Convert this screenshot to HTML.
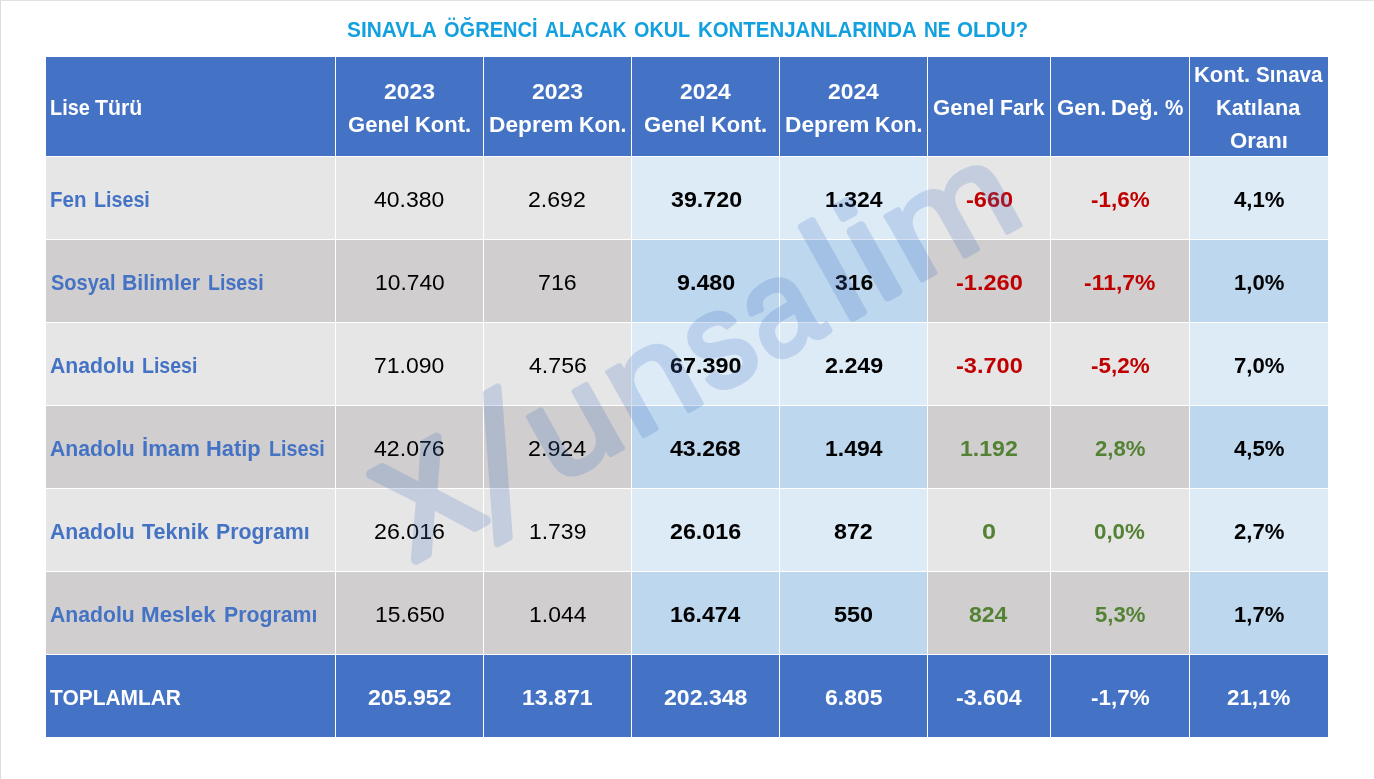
<!DOCTYPE html>
<html lang="tr"><head><meta charset="utf-8"><title>Sınavla öğrenci alacak okul kontenjanları</title>
<style>
html,body{margin:0;padding:0;background:#fff}
body{width:1374px;height:779px;position:relative;overflow:hidden;font-family:"Liberation Sans", sans-serif;font-size:22.8px;line-height:33.0px;color:#000}
.edge-l{position:absolute;left:0;top:0;width:1px;height:779px;background:#dcdcdc}
.edge-t{position:absolute;left:0;top:0;width:1374px;height:1px;background:#e2e2e2}
#grid{position:absolute;left:46px;top:57px;width:1282px;height:680px;background:#fff;display:grid;gap:1px;grid-template-columns:289px 147px 147px 147px 147px 122px 138px 138px;grid-template-rows:99px repeat(7,82px)}
.r{display:contents}
.c{position:relative;overflow:visible}
.ln{position:absolute;left:0;right:0;height:33.0px;display:flex;justify-content:center;white-space:pre}
.ln.l{justify-content:flex-start}
.t{display:inline-block;flex:none;white-space:pre}
.w{display:inline-block;white-space:pre}
.w.a{position:absolute;top:0}
.g{display:inline-block;transform-origin:0 50%;white-space:pre}
.b{font-weight:700}
.hd{background:#4472c4;color:#fff;font-weight:700}
.g1{background:#e7e6e6}.g2{background:#d0cece}
.b1{background:#ddebf7}.b2{background:#bdd7ee}
.nm{color:#4472c4;font-weight:700}
.neg{color:#c00000}.pos{color:#548235}
#title{position:absolute;left:46px;width:1282px;color:#12a0df;font-weight:700}
#wm{position:absolute;left:0;top:0;width:1374px;height:779px;pointer-events:none}
</style></head><body>
<div class="edge-l"></div><div class="edge-t"></div>
<div id="title" class="ln l" style="top:13px"><span class="t"><span class="w a" style="left:300.87px"><span class="g" style="transform:scaleX(0.9140)">SINAVLA</span></span> <span class="w a" style="left:397.87px"><span class="g" style="transform:scaleX(0.8797)">ÖĞRENCİ</span></span> <span class="w a" style="left:498.70px"><span class="g" style="transform:scaleX(0.8474)">ALACAK</span></span> <span class="w a" style="left:587.88px"><span class="g" style="transform:scaleX(0.8678)">OKUL</span></span> <span class="w a" style="left:652.02px"><span class="g" style="transform:scaleX(0.8953)">KONTENJANLARINDA</span></span> <span class="w a" style="left:877.80px"><span class="g" style="transform:scaleX(0.8399)">NE</span></span> <span class="w a" style="left:911.45px"><span class="g" style="transform:scaleX(0.9074)">OLDU?</span></span></span></div>
<div id="grid" role="table">
<div class="r" role="row">
<div class="c hd" role="columnheader"><div class="ln l" style="top:34px"><span class="t"><span class="w a" style="left:3.94px"><span class="g" style="transform:scaleX(0.8709)">Lise</span></span> <span class="w a" style="left:49.38px"><span class="g" style="transform:scaleX(0.9343)">Türü</span></span></span></div></div>
<div class="c hd" role="columnheader"><div class="ln l" style="top:18px"><span class="t"><span class="w a" style="left:47.97px"><span class="g" style="transform:scaleX(1.0080)">2023</span></span></span></div><div class="ln l" style="top:51px"><span class="t"><span class="w a" style="left:11.82px"><span class="g" style="transform:scaleX(0.9691)">Genel</span></span> <span class="w a" style="left:78.91px"><span class="g" style="transform:scaleX(0.9623)">Kont.</span></span></span></div></div>
<div class="c hd" role="columnheader"><div class="ln l" style="top:18px"><span class="t"><span class="w a" style="left:47.97px"><span class="g" style="transform:scaleX(1.0080)">2023</span></span></span></div><div class="ln l" style="top:51px"><span class="t"><span class="w a" style="left:4.71px"><span class="g" style="transform:scaleX(0.9957)">Deprem</span></span> <span class="w a" style="left:94.64px"><span class="g" style="transform:scaleX(0.9370)">Kon.</span></span></span></div></div>
<div class="c hd" role="columnheader"><div class="ln l" style="top:18px"><span class="t"><span class="w a" style="left:47.97px"><span class="g" style="transform:scaleX(1.0015)">2024</span></span></span></div><div class="ln l" style="top:51px"><span class="t"><span class="w a" style="left:11.82px"><span class="g" style="transform:scaleX(0.9691)">Genel</span></span> <span class="w a" style="left:78.91px"><span class="g" style="transform:scaleX(0.9623)">Kont.</span></span></span></div></div>
<div class="c hd" role="columnheader"><div class="ln l" style="top:18px"><span class="t"><span class="w a" style="left:47.97px"><span class="g" style="transform:scaleX(1.0015)">2024</span></span></span></div><div class="ln l" style="top:51px"><span class="t"><span class="w a" style="left:4.71px"><span class="g" style="transform:scaleX(0.9957)">Deprem</span></span> <span class="w a" style="left:94.64px"><span class="g" style="transform:scaleX(0.9370)">Kon.</span></span></span></div></div>
<div class="c hd" role="columnheader"><div class="ln l" style="top:34px"><span class="t"><span class="w a" style="left:4.99px"><span class="g" style="transform:scaleX(0.9691)">Genel</span></span> <span class="w a" style="left:72.13px"><span class="g" style="transform:scaleX(0.9255)">Fark</span></span></span></div></div>
<div class="c hd" role="columnheader"><div class="ln l" style="top:34px"><span class="t"><span class="w a" style="left:5.57px"><span class="g" style="transform:scaleX(0.9766)">Gen.</span></span> <span class="w a" style="left:60.49px"><span class="g" style="transform:scaleX(0.9636)">Değ.</span></span> <span class="w a" style="left:113.80px"><span class="g" style="transform:scaleX(0.9061)">%</span></span></span></div></div>
<div class="c hd" role="columnheader"><div class="ln l" style="top:1px"><span class="t"><span class="w a" style="left:4.14px"><span class="g" style="transform:scaleX(0.9623)">Kont.</span></span> <span class="w a" style="left:65.90px"><span class="g" style="transform:scaleX(0.9061)">Sınava</span></span></span></div><div class="ln l" style="top:34px"><span class="t"><span class="w a" style="left:26.24px"><span class="g" style="transform:scaleX(0.9492)">Katılana</span></span></span></div><div class="ln l" style="top:67px"><span class="t"><span class="w a" style="left:39.84px"><span class="g" style="transform:scaleX(0.9715)">Oranı</span></span></span></div></div>
</div>
<div class="r" role="row">
<div class="c g1 nm" role="cell"><div class="ln l" style="top:26px"><span class="t"><span class="w a" style="left:4.32px"><span class="g" style="transform:scaleX(0.8998)">Fen</span></span> <span class="w a" style="left:47.67px"><span class="g" style="transform:scaleX(0.8632)">Lisesi</span></span></span></div></div>
<div class="c g1" role="cell"><div class="ln l" style="top:26px"><span class="t"><span class="w a" style="left:38.35px"><span class="g" style="transform:scaleX(1.0086)">40.380</span></span></span></div></div>
<div class="c g1" role="cell"><div class="ln l" style="top:26px"><span class="t"><span class="w a" style="left:44.42px"><span class="g" style="transform:scaleX(1.0136)">2.692</span></span></span></div></div>
<div class="c b1 b" role="cell"><div class="ln l" style="top:26px"><span class="t"><span class="w a" style="left:38.56px"><span class="g" style="transform:scaleX(1.0192)">39.720</span></span></span></div></div>
<div class="c b1 b" role="cell"><div class="ln l" style="top:26px"><span class="t"><span class="w a" style="left:44.67px"><span class="g" style="transform:scaleX(1.0073)">1.324</span></span></span></div></div>
<div class="c g1 b neg" role="cell"><div class="ln l" style="top:26px"><span class="t"><span class="w a" style="left:37.59px"><span class="g" style="transform:scaleX(1.0354)">-660</span></span></span></div></div>
<div class="c g1 b neg" role="cell"><div class="ln l" style="top:26px"><span class="t"><span class="w a" style="left:39.57px"><span class="g" style="transform:scaleX(0.9840)">-1,6%</span></span></span></div></div>
<div class="c b1 b" role="cell"><div class="ln l" style="top:26px"><span class="t"><span class="w a" style="left:43.74px"><span class="g" style="transform:scaleX(0.9731)">4,1%</span></span></span></div></div>
</div>
<div class="r" role="row">
<div class="c g2 nm" role="cell"><div class="ln l" style="top:26px"><span class="t"><span class="w a" style="left:4.69px"><span class="g" style="transform:scaleX(0.8774)">Sosyal</span></span> <span class="w a" style="left:75.87px"><span class="g" style="transform:scaleX(0.9331)">Bilimler</span></span> <span class="w a" style="left:162.07px"><span class="g" style="transform:scaleX(0.8599)">Lisesi</span></span></span></div></div>
<div class="c g2" role="cell"><div class="ln l" style="top:26px"><span class="t"><span class="w a" style="left:38.86px"><span class="g" style="transform:scaleX(1.0012)">10.740</span></span></span></div></div>
<div class="c g2" role="cell"><div class="ln l" style="top:26px"><span class="t"><span class="w a" style="left:54.39px"><span class="g" style="transform:scaleX(1.0165)">716</span></span></span></div></div>
<div class="c b2 b" role="cell"><div class="ln l" style="top:26px"><span class="t"><span class="w a" style="left:44.99px"><span class="g" style="transform:scaleX(1.0209)">9.480</span></span></span></div></div>
<div class="c b2 b" role="cell"><div class="ln l" style="top:26px"><span class="t"><span class="w a" style="left:54.73px"><span class="g" style="transform:scaleX(1.0085)">316</span></span></span></div></div>
<div class="c g2 b neg" role="cell"><div class="ln l" style="top:26px"><span class="t"><span class="w a" style="left:27.82px"><span class="g" style="transform:scaleX(1.0331)">-1.260</span></span></span></div></div>
<div class="c g2 b neg" role="cell"><div class="ln l" style="top:26px"><span class="t"><span class="w a" style="left:33.15px"><span class="g" style="transform:scaleX(1.0063)">-11,7%</span></span></span></div></div>
<div class="c b2 b" role="cell"><div class="ln l" style="top:26px"><span class="t"><span class="w a" style="left:43.94px"><span class="g" style="transform:scaleX(0.9692)">1,0%</span></span></span></div></div>
</div>
<div class="r" role="row">
<div class="c g1 nm" role="cell"><div class="ln l" style="top:26px"><span class="t"><span class="w a" style="left:4.37px"><span class="g" style="transform:scaleX(0.9298)">Anadolu</span></span> <span class="w a" style="left:96.08px"><span class="g" style="transform:scaleX(0.8567)">Lisesi</span></span></span></div></div>
<div class="c g1" role="cell"><div class="ln l" style="top:26px"><span class="t"><span class="w a" style="left:38.42px"><span class="g" style="transform:scaleX(1.0075)">71.090</span></span></span></div></div>
<div class="c g1" role="cell"><div class="ln l" style="top:26px"><span class="t"><span class="w a" style="left:44.74px"><span class="g" style="transform:scaleX(1.0148)">4.756</span></span></span></div></div>
<div class="c b1 b" role="cell"><div class="ln l" style="top:26px"><span class="t"><span class="w a" style="left:38.19px"><span class="g" style="transform:scaleX(1.0245)">67.390</span></span></span></div></div>
<div class="c b1 b" role="cell"><div class="ln l" style="top:26px"><span class="t"><span class="w a" style="left:44.59px"><span class="g" style="transform:scaleX(1.0215)">2.249</span></span></span></div></div>
<div class="c g1 b neg" role="cell"><div class="ln l" style="top:26px"><span class="t"><span class="w a" style="left:27.82px"><span class="g" style="transform:scaleX(1.0331)">-3.700</span></span></span></div></div>
<div class="c g1 b neg" role="cell"><div class="ln l" style="top:26px"><span class="t"><span class="w a" style="left:39.57px"><span class="g" style="transform:scaleX(0.9840)">-5,2%</span></span></span></div></div>
<div class="c b1 b" role="cell"><div class="ln l" style="top:26px"><span class="t"><span class="w a" style="left:43.84px"><span class="g" style="transform:scaleX(0.9712)">7,0%</span></span></span></div></div>
</div>
<div class="r" role="row">
<div class="c g2 nm" role="cell"><div class="ln l" style="top:26px"><span class="t"><span class="w a" style="left:4.37px"><span class="g" style="transform:scaleX(0.9298)">Anadolu</span></span> <span class="w a" style="left:95.92px"><span class="g" style="transform:scaleX(0.9710)">İmam</span></span> <span class="w a" style="left:160.24px"><span class="g" style="transform:scaleX(0.9575)">Hatip</span></span> <span class="w a" style="left:222.67px"><span class="g" style="transform:scaleX(0.8632)">Lisesi</span></span></span></div></div>
<div class="c g2" role="cell"><div class="ln l" style="top:26px"><span class="t"><span class="w a" style="left:38.35px"><span class="g" style="transform:scaleX(1.0138)">42.076</span></span></span></div></div>
<div class="c g2" role="cell"><div class="ln l" style="top:26px"><span class="t"><span class="w a" style="left:44.41px"><span class="g" style="transform:scaleX(1.0214)">2.924</span></span></span></div></div>
<div class="c b2 b" role="cell"><div class="ln l" style="top:26px"><span class="t"><span class="w a" style="left:38.13px"><span class="g" style="transform:scaleX(1.0144)">43.268</span></span></span></div></div>
<div class="c b2 b" role="cell"><div class="ln l" style="top:26px"><span class="t"><span class="w a" style="left:44.67px"><span class="g" style="transform:scaleX(1.0073)">1.494</span></span></span></div></div>
<div class="c g2 b pos" role="cell"><div class="ln l" style="top:26px"><span class="t"><span class="w a" style="left:32.17px"><span class="g" style="transform:scaleX(1.0132)">1.192</span></span></span></div></div>
<div class="c g2 b pos" role="cell"><div class="ln l" style="top:26px"><span class="t"><span class="w a" style="left:43.84px"><span class="g" style="transform:scaleX(0.9712)">2,8%</span></span></span></div></div>
<div class="c b2 b" role="cell"><div class="ln l" style="top:26px"><span class="t"><span class="w a" style="left:43.74px"><span class="g" style="transform:scaleX(0.9731)">4,5%</span></span></span></div></div>
</div>
<div class="r" role="row">
<div class="c g1 nm" role="cell"><div class="ln l" style="top:26px"><span class="t"><span class="w a" style="left:4.37px"><span class="g" style="transform:scaleX(0.9298)">Anadolu</span></span> <span class="w a" style="left:95.60px"><span class="g" style="transform:scaleX(0.9451)">Teknik</span></span> <span class="w a" style="left:169.57px"><span class="g" style="transform:scaleX(0.9361)">Programı</span></span></span></div></div>
<div class="c g1" role="cell"><div class="ln l" style="top:26px"><span class="t"><span class="w a" style="left:38.01px"><span class="g" style="transform:scaleX(1.0186)">26.016</span></span></span></div></div>
<div class="c g1" role="cell"><div class="ln l" style="top:26px"><span class="t"><span class="w a" style="left:45.25px"><span class="g" style="transform:scaleX(1.0058)">1.739</span></span></span></div></div>
<div class="c b1 b" role="cell"><div class="ln l" style="top:26px"><span class="t"><span class="w a" style="left:38.20px"><span class="g" style="transform:scaleX(1.0192)">26.016</span></span></span></div></div>
<div class="c b1 b" role="cell"><div class="ln l" style="top:26px"><span class="t"><span class="w a" style="left:53.97px"><span class="g" style="transform:scaleX(1.0182)">872</span></span></span></div></div>
<div class="c g1 b pos" role="cell"><div class="ln l" style="top:26px"><span class="t"><span class="w a" style="left:54.20px"><span class="g" style="transform:scaleX(1.1075)">0</span></span></span></div></div>
<div class="c g1 b pos" role="cell"><div class="ln l" style="top:26px"><span class="t"><span class="w a" style="left:43.44px"><span class="g" style="transform:scaleX(0.9789)">0,0%</span></span></span></div></div>
<div class="c b1 b" role="cell"><div class="ln l" style="top:26px"><span class="t"><span class="w a" style="left:43.84px"><span class="g" style="transform:scaleX(0.9712)">2,7%</span></span></span></div></div>
</div>
<div class="r" role="row">
<div class="c g2 nm" role="cell"><div class="ln l" style="top:26px"><span class="t"><span class="w a" style="left:4.37px"><span class="g" style="transform:scaleX(0.9298)">Anadolu</span></span> <span class="w a" style="left:95.20px"><span class="g" style="transform:scaleX(0.9817)">Meslek</span></span> <span class="w a" style="left:178.27px"><span class="g" style="transform:scaleX(0.9330)">Programı</span></span></span></div></div>
<div class="c g2" role="cell"><div class="ln l" style="top:26px"><span class="t"><span class="w a" style="left:38.86px"><span class="g" style="transform:scaleX(1.0012)">15.650</span></span></span></div></div>
<div class="c g2" role="cell"><div class="ln l" style="top:26px"><span class="t"><span class="w a" style="left:45.25px"><span class="g" style="transform:scaleX(1.0065)">1.044</span></span></span></div></div>
<div class="c b2 b" role="cell"><div class="ln l" style="top:26px"><span class="t"><span class="w a" style="left:38.27px"><span class="g" style="transform:scaleX(1.0077)">16.474</span></span></span></div></div>
<div class="c b2 b" role="cell"><div class="ln l" style="top:26px"><span class="t"><span class="w a" style="left:54.32px"><span class="g" style="transform:scaleX(1.0290)">550</span></span></span></div></div>
<div class="c g2 b pos" role="cell"><div class="ln l" style="top:26px"><span class="t"><span class="w a" style="left:41.47px"><span class="g" style="transform:scaleX(1.0094)">824</span></span></span></div></div>
<div class="c g2 b pos" role="cell"><div class="ln l" style="top:26px"><span class="t"><span class="w a" style="left:43.79px"><span class="g" style="transform:scaleX(0.9721)">5,3%</span></span></span></div></div>
<div class="c b2 b" role="cell"><div class="ln l" style="top:26px"><span class="t"><span class="w a" style="left:43.94px"><span class="g" style="transform:scaleX(0.9692)">1,7%</span></span></span></div></div>
</div>
<div class="r" role="row">
<div class="c hd" role="cell"><div class="ln l" style="top:26px"><span class="t"><span class="w a" style="left:4.00px"><span class="g" style="transform:scaleX(0.9178)">TOPLAMLAR</span></span></span></div></div>
<div class="c hd" role="cell"><div class="ln l" style="top:26px"><span class="t"><span class="w a" style="left:31.80px"><span class="g" style="transform:scaleX(1.0128)">205.952</span></span></span></div></div>
<div class="c hd" role="cell"><div class="ln l" style="top:26px"><span class="t"><span class="w a" style="left:38.27px"><span class="g" style="transform:scaleX(1.0125)">13.871</span></span></span></div></div>
<div class="c hd" role="cell"><div class="ln l" style="top:26px"><span class="t"><span class="w a" style="left:31.80px"><span class="g" style="transform:scaleX(1.0128)">202.348</span></span></span></div></div>
<div class="c hd" role="cell"><div class="ln l" style="top:26px"><span class="t"><span class="w a" style="left:44.60px"><span class="g" style="transform:scaleX(1.0073)">6.805</span></span></span></div></div>
<div class="c hd" role="cell"><div class="ln l" style="top:26px"><span class="t"><span class="w a" style="left:27.83px"><span class="g" style="transform:scaleX(1.0159)">-3.604</span></span></span></div></div>
<div class="c hd" role="cell"><div class="ln l" style="top:26px"><span class="t"><span class="w a" style="left:39.57px"><span class="g" style="transform:scaleX(0.9840)">-1,7%</span></span></span></div></div>
<div class="c hd" role="cell"><div class="ln l" style="top:26px"><span class="t"><span class="w a" style="left:37.44px"><span class="g" style="transform:scaleX(0.9788)">21,1%</span></span></span></div></div>
</div>
</div>
<svg id="wm" viewBox="0 0 1374 779"><text transform="translate(413.8 566.5) rotate(-29.2)" font-family="Liberation Sans, sans-serif" font-size="150" fill="#4472c4" stroke="#4472c4" stroke-linejoin="round" opacity="0.21"><tspan x="2.0" y="-5.0" font-size="140.1" stroke-width="10.0" textLength="86.7" lengthAdjust="spacingAndGlyphs">X</tspan><tspan x="75.0" y="19.0" font-family="Liberation Mono, monospace" font-size="185.6" stroke-width="7.5" textLength="95.3" lengthAdjust="spacingAndGlyphs">/</tspan><tspan x="163.2" y="-1.5" font-size="138.5" stroke-width="5.0" textLength="86.9" lengthAdjust="spacingAndGlyphs">u</tspan><tspan x="254.2" y="-2.0" font-size="138.5" stroke-width="5.0" textLength="86.0" lengthAdjust="spacingAndGlyphs">n</tspan><tspan x="344.5" y="-3.0" font-size="134.7" stroke-width="5.5" textLength="60.4" lengthAdjust="spacingAndGlyphs">s</tspan><tspan x="409.4" y="-2.5" font-size="134.7" stroke-width="5.5" textLength="69.0" lengthAdjust="spacingAndGlyphs">a</tspan><tspan x="495.2" y="-3.0" font-size="143.6" stroke-width="8.0" textLength="30.4" lengthAdjust="spacingAndGlyphs">l</tspan><tspan x="536.1" y="-4.0" font-size="142.3" stroke-width="9.0" textLength="30.1" lengthAdjust="spacingAndGlyphs">i</tspan><tspan x="572.8" y="-2.0" font-size="138.5" stroke-width="5.0" textLength="133.2" lengthAdjust="spacingAndGlyphs">m</tspan></text></svg>
</body></html>
